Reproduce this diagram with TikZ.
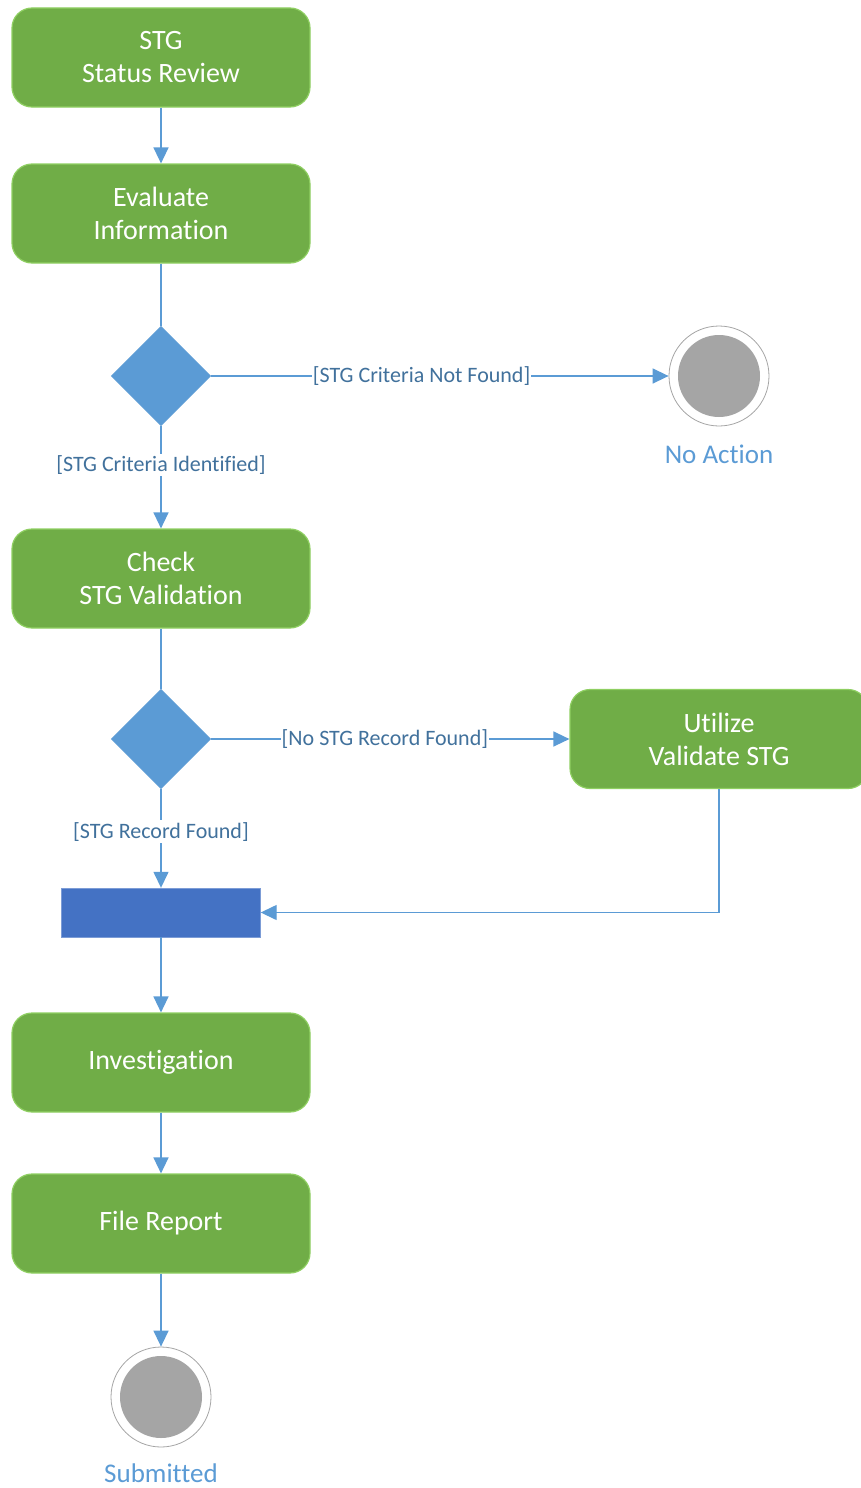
\documentclass[tikz,border=0pt]{standalone}
\usepackage{fontspec}
\setmainfont{Carlito}[Ligatures={NoCommon,NoRequired,NoContextual},Contextuals=NoAlternate]
\usetikzlibrary{arrows.meta,shapes.geometric}
\definecolor{actgreen}{RGB}{112,173,71}
\definecolor{actedge}{RGB}{143,207,98}
\definecolor{flowblue}{RGB}{91,155,213}
\definecolor{guardblue}{RGB}{65,113,156}
\definecolor{barblue}{RGB}{68,114,196}
\definecolor{endgray}{RGB}{165,165,165}

\begin{document}
\begin{tikzpicture}[x=1pt,y=-1pt,
 act/.style={draw=actedge,line width=1.2pt,fill=actgreen,rounded corners=20pt,
  minimum width=298pt,minimum height=99pt,align=center,text=white,
  font=\fontsize{28}{33}\selectfont},
 choice/.style={diamond,aspect=1,draw=flowblue!80!white,fill=flowblue,
  minimum size=100pt,inner sep=0pt},
 forkbar/.style={draw=barblue!70!white,fill=barblue,minimum width=199pt,
  minimum height=49pt,inner sep=0pt},
 endnode/.style={circle,draw=endgray,line width=0.8pt,fill=white,
  minimum size=100pt,inner sep=0pt},
 endlabel/.style={text=flowblue,font=\fontsize{27}{30}\selectfont},
 guard/.style={fill=white,text=guardblue,inner xsep=1pt,inner ysep=2pt,
  font=\fontsize{22}{25}\selectfont},
 flow/.style={draw=flowblue,line width=1.4pt,-{Triangle[length=16pt,width=15pt]}},
 line/.style={draw=flowblue,line width=1.4pt}]
\useasboundingbox (0,0) rectangle (861,1488);
\clip (0,0) rectangle (861,1488);
% activities
\node[act] (review) at (161,57.5) {STG\\Status Review};
\node[act] (evaluate) at (161,213.5) {Evaluate\\Information};
\node[choice] (crit) at (161,376) {};
\node[endnode] (noact) at (719,376) {};
\fill[endgray] (noact.center) circle (41pt);
\node[endlabel] (noactlbl) at (719,454) {No Action};
\node[act] (check) at (161,578.5) {Check\\STG Validation};
\node[choice] (rec) at (161,739) {};
\node[act] (utilize) at (719,739) {Utilize\\Validate STG};
\node[forkbar] (merge) at (161,912.5) {};
\node[act] (invest) at (161,1062.5) {Investigation};
\node[act] (report) at (161,1223.5) {File Report};
\node[endnode] (done) at (161,1397) {};
\fill[endgray] (done.center) circle (41pt);
\node[endlabel] (donelbl) at (161,1473) {Submitted};
% flows
\draw[flow] (review) -- (evaluate);
\draw[line] (evaluate) -- (crit);
\draw[flow] (crit) -- node[guard,pos=0.46] {[STG Criteria Not Found]} (noact);
\draw[flow] (crit) -- node[guard,pos=0.38] {[STG Criteria Identified]} (check);
\draw[line] (check) -- (rec);
\draw[flow] (rec) -- node[guard,pos=0.485] {[No STG Record Found]} (utilize);
\draw[flow] (rec) -- node[guard,pos=0.43] {[STG Record Found]} (merge);
\draw[flow] (utilize.south) |- (merge.east);
\draw[flow] (merge) -- (invest);
\draw[flow] (invest) -- (report);
\draw[flow] (report) -- (done);
\end{tikzpicture}
\end{document}
